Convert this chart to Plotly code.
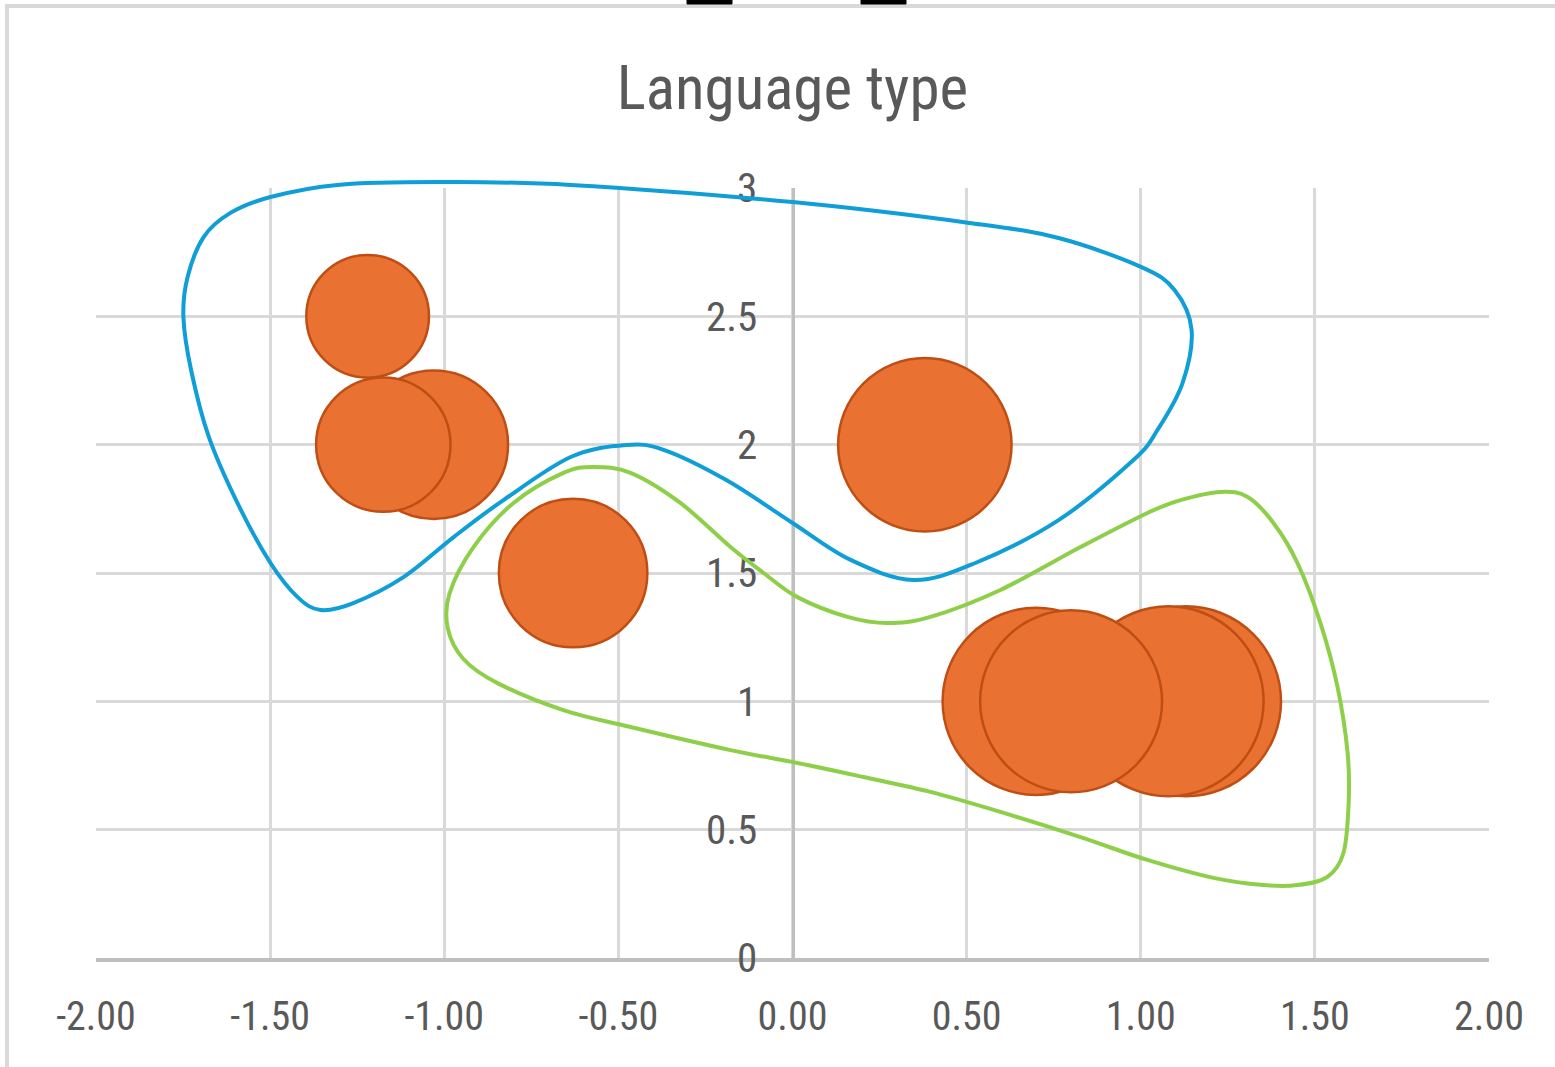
import plotly.graph_objects as go

# ---- bubble data: language type positions and weights ----
lang_x = [-1.22, -1.03, -1.175, -0.63, 0.38, 0.70, 0.80, 1.13, 1.08]
lang_y = [2.5, 2.0, 2.0, 1.5, 2.0, 1.0, 1.0, 1.0, 1.0]
lang_size = [15, 22, 18, 22, 30, 35, 33, 36, 36]

# axis settings
x_ticks = [-2.0, -1.5, -1.0, -0.5, 0.0, 0.5, 1.0, 1.5, 2.0]
x_tick_labels = ["-2.00", "-1.50", "-1.00", "-0.50", "0.00", "0.50", "1.00", "1.50", "2.00"]
y_ticks = [0, 0.5, 1, 1.5, 2, 2.5, 3]
y_tick_labels = ["0", "0.5", "1", "1.5", "2", "2.5", "3"]
X_RANGE = (-2.0, 2.0)
Y_RANGE = (0.0, 3.0)

# hand-drawn grouping outlines (data units)
group1_x = [-0.637, 0.0, 0.508, 0.764, 1.002, 1.097, 1.146, 1.120, 1.048, 0.979, 0.764,
            0.525, 0.347, 0.167, 0.0, -0.190, -0.368, -0.477, -0.637, -0.830, -0.973,
            -1.117, -1.261, -1.355, -1.421, -1.499, -1.594, -1.676, -1.727, -1.749,
            -1.737, -1.691, -1.614, -1.499, -1.307, -1.019]
group1_y = [3.012, 2.945, 2.864, 2.805, 2.692, 2.603, 2.447, 2.240, 2.057, 1.940, 1.706,
            1.539, 1.473, 1.551, 1.695, 1.862, 1.979, 1.999, 1.952, 1.784, 1.640,
            1.484, 1.383, 1.356, 1.406, 1.539, 1.773, 2.030, 2.291, 2.497,
            2.653, 2.809, 2.903, 2.965, 3.012, 3.023]

group2_x = [-0.178, -0.465, -0.658, -0.847, -0.945, -0.990, -0.985, -0.916, -0.801, -0.658,
            -0.571, -0.465, -0.322, -0.178, -0.083, 0.014, 0.158, 0.273, 0.396, 0.597,
            0.827, 1.019, 1.114, 1.229, 1.307, 1.381, 1.450, 1.516, 1.565, 1.594, 1.597,
            1.582, 1.536, 1.450, 1.352, 1.209, 1.019, 0.827, 0.597, 0.396, 0.204, 0.014]
group2_y = [0.810, 0.900, 0.966, 1.071, 1.165, 1.285, 1.420, 1.601, 1.773, 1.890,
            1.913, 1.890, 1.773, 1.601, 1.500, 1.406, 1.329, 1.305, 1.329, 1.434,
            1.601, 1.734, 1.784, 1.816, 1.796, 1.695, 1.539, 1.305, 1.056, 0.799, 0.604,
            0.409, 0.316, 0.284, 0.284, 0.312, 0.382, 0.471, 0.569, 0.647, 0.705, 0.760]

FONT = "Liberation Sans Narrow, Arial Narrow, Roboto Condensed, Liberation Sans, sans-serif"
TEXT_COLOR = "#595959"
GRID_COLOR = "#d9d9d9"
AXIS_COLOR = "#bfbfbf"

W, H = 1555, 1067
M_L, M_R, M_T, M_B = 96, 66, 188, 109


def to_paper(x, y):
    """Map data coordinates onto the paper frame of the plot area."""
    px = (x - X_RANGE[0]) / (X_RANGE[1] - X_RANGE[0])
    py = (y - Y_RANGE[0]) / (Y_RANGE[1] - Y_RANGE[0])
    return px, py


def pix_to_paper(px, py):
    pw = W - M_L - M_R
    ph = H - M_T - M_B
    return (px - M_L) / pw, (H - M_B - py) / ph


def closed_spline_path(xs, ys):
    """Closed Catmull-Rom curve through the points, as an SVG cubic path."""
    pts = [to_paper(x, y) for x, y in zip(xs, ys)]
    n = len(pts)
    d = "M {:.5f},{:.5f}".format(*pts[0])
    for i in range(n):
        p0 = pts[(i - 1) % n]
        p1 = pts[i]
        p2 = pts[(i + 1) % n]
        p3 = pts[(i + 2) % n]
        c1 = (p1[0] + (p2[0] - p0[0]) / 6, p1[1] + (p2[1] - p0[1]) / 6)
        c2 = (p2[0] - (p3[0] - p1[0]) / 6, p2[1] - (p3[1] - p1[1]) / 6)
        d += " C {:.5f},{:.5f} {:.5f},{:.5f} {:.5f},{:.5f}".format(*c1, *c2, *p2)
    return d + " Z"


# larger bubbles are drawn first so smaller ones sit on top
order = sorted(range(len(lang_size)), key=lambda i: -lang_size[i])
max_diam = 190

fig = go.Figure()
fig.add_trace(go.Scatter(
    x=[lang_x[i] for i in order],
    y=[lang_y[i] for i in order],
    mode="markers",
    marker=dict(
        size=[lang_size[i] for i in order],
        sizemode="area",
        sizeref=2.0 * max(lang_size) / (max_diam ** 2),
        color="#E97132",
        opacity=1,
        line=dict(color="#BF4E14", width=2.5),
    ),
    showlegend=False,
    hoverinfo="x+y",
))

shapes = []
# chart frame
fx0, fy0 = pix_to_paper(7, 6)
fx1, fy1 = pix_to_paper(1575, 1090)
shapes.append(dict(type="rect", xref="paper", yref="paper", x0=fx0, y0=fy0, x1=fx1, y1=fy1,
                   line=dict(color="#d9d9d9", width=4), fillcolor="rgba(0,0,0,0)", layer="below"))

# selection handles peeking in at the top edge
for hx0, hx1 in [(687, 732), (861, 906)]:
    ax0, ay0 = pix_to_paper(hx0, -14)
    ax1, ay1 = pix_to_paper(hx1, 4)
    shapes.append(dict(type="rect", xref="paper", yref="paper", x0=ax0, y0=ay0, x1=ax1, y1=ay1,
                       line=dict(color="black", width=1), fillcolor="black"))

# grouping outlines
shapes.append(dict(type="path", xref="paper", yref="paper",
                   path=closed_spline_path(group1_x, group1_y),
                   line=dict(color="#0F9ED5", width=4), fillcolor="rgba(0,0,0,0)"))
shapes.append(dict(type="path", xref="paper", yref="paper",
                   path=closed_spline_path(group2_x, group2_y),
                   line=dict(color="#8ECF4A", width=4), fillcolor="rgba(0,0,0,0)"))

fig.update_layout(
    width=W, height=H,
    margin=dict(l=M_L, r=M_R, t=M_T, b=M_B, pad=0),
    paper_bgcolor="white",
    plot_bgcolor="white",
    title=dict(
        text="Language type",
        x=0.5, xref="paper", xanchor="center",
        y=1 - 88 / H, yref="container", yanchor="middle",
        font=dict(family=FONT, size=61, color=TEXT_COLOR),
    ),
    xaxis=dict(
        range=list(X_RANGE),
        tickvals=x_ticks,
        ticktext=x_tick_labels,
        showgrid=True, gridcolor=GRID_COLOR, gridwidth=3,
        zeroline=False,
        showline=True, linecolor=AXIS_COLOR, linewidth=4,
        ticks="",
        ticklabelstandoff=20,
        tickfont=dict(family=FONT, size=40, color=TEXT_COLOR),
        automargin=False,
        layer="below traces",
        fixedrange=True,
    ),
    yaxis=dict(
        range=list(Y_RANGE),
        tickvals=y_ticks,
        ticktext=y_tick_labels,
        showgrid=True, gridcolor=GRID_COLOR, gridwidth=3,
        zeroline=False,
        anchor="free", position=0.5,
        showline=True, linecolor=AXIS_COLOR, linewidth=3,
        ticks="",
        ticklabelstandoff=26,
        tickfont=dict(family=FONT, size=41, color=TEXT_COLOR),
        automargin=False,
        layer="below traces",
        fixedrange=True,
    ),
    shapes=shapes,
)

fig.write_html("out.html")
